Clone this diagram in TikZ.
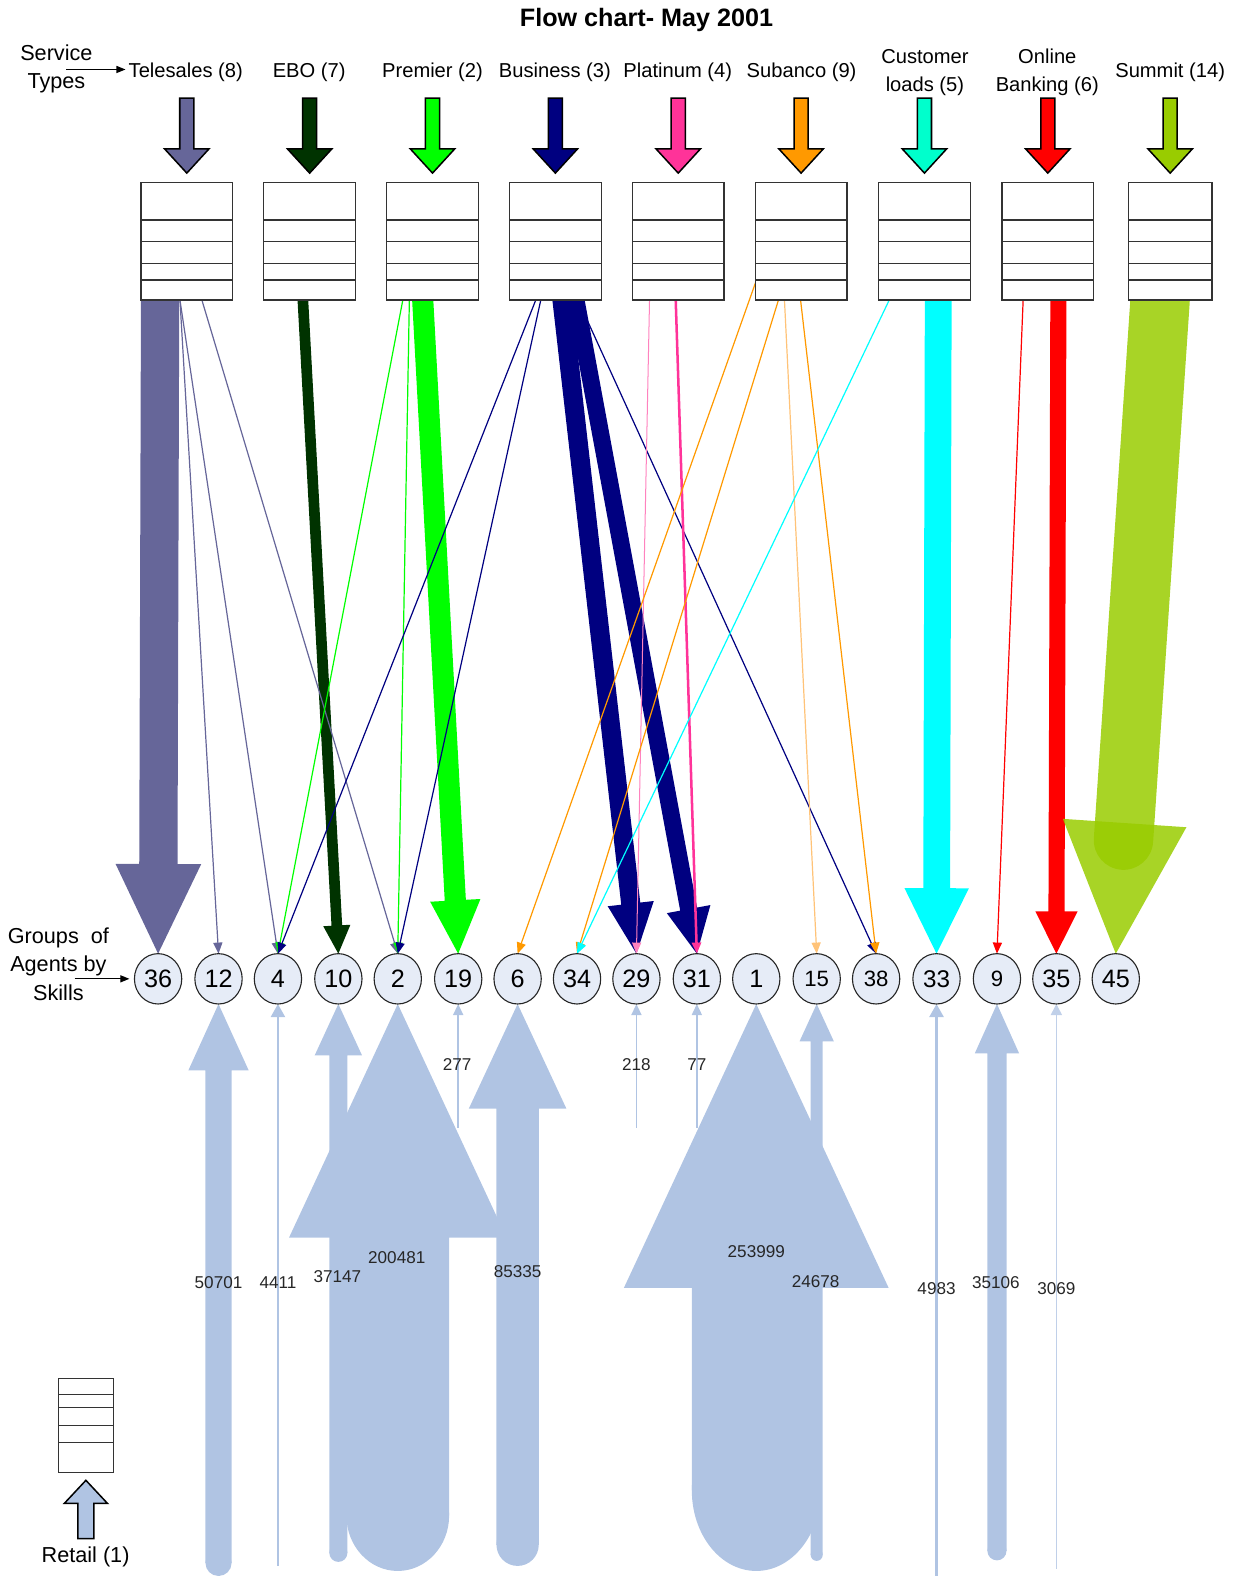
\documentclass[tikz,border=0pt]{standalone}
\usepackage{fontspec}
\setmainfont{Liberation Sans}
\usetikzlibrary{calc,arrows.meta,shapes.geometric}
\pgfdeclarelayer{bg}
\pgfsetlayers{bg,main}
\definecolor{telecol}{RGB}{102,102,153}
\definecolor{ebocol}{RGB}{0,51,0}
\definecolor{premcol}{RGB}{0,255,0}
\definecolor{buscol}{RGB}{0,0,128}
\definecolor{platcol}{RGB}{255,51,153}
\definecolor{platlt}{RGB}{255,130,190}
\definecolor{subcol}{RGB}{255,153,0}
\definecolor{sublt}{RGB}{255,195,120}
\definecolor{custcol}{RGB}{0,255,204}
\definecolor{cyancol}{RGB}{0,255,255}
\definecolor{redcol}{RGB}{255,0,0}
\definecolor{sumcol}{RGB}{153,204,0}
\definecolor{retcol}{RGB}{176,196,227}
\definecolor{grpfill}{RGB}{230,236,247}

% #1 style, #2 start, #3 tip, #4 half shaft, #5 half head, #6 head length
\newcommand\blockarr[6]{%
  \coordinate (bahd) at ($(#3)!#6!(#2)$);
  \fill[#1] ($(#2)!#4!90:(#3)$) -- ($(bahd)!#4!90:(#3)$) -- ($(bahd)!#5!90:(#3)$) -- (#3)
    -- ($(bahd)!#5!-90:(#3)$) -- ($(bahd)!#4!-90:(#3)$) -- ($(#2)!#4!-90:(#3)$) -- cycle;}

\tikzset{
  lab/.style={font=\fontsize{20}{28}\selectfont, align=center, inner sep=3pt},
  side/.style={font=\fontsize{21.5}{28}\selectfont, align=center, inner sep=0pt},
  queuebase/.style={draw=black!80, line width=1.3pt, fill=white, minimum width=91pt,
    minimum height=116.6pt, inner sep=0pt, outer sep=0pt},
  queue/.style={queuebase, path picture={\foreach \fr in {0.318,0.503,0.691,0.828}{
    \draw[line width=1.3pt, black!80] ($(path picture bounding box.north west)!\fr!(path picture bounding box.south west)$)
      -- ($(path picture bounding box.north east)!\fr!(path picture bounding box.south east)$);}}},
  rqueue/.style={queuebase, line width=1.1pt, minimum width=54pt, minimum height=93pt,
    path picture={\foreach \fr in {0.172,0.309,0.497,0.682}{
    \draw[line width=1.1pt, black!80] ($(path picture bounding box.north west)!\fr!(path picture bounding box.south west)$)
      -- ($(path picture bounding box.north east)!\fr!(path picture bounding box.south east)$);}}},
  grp/.style={ellipse, draw=black!85, line width=1.1pt, fill=grpfill, minimum width=47pt,
    minimum height=50pt, inner sep=0pt, outer sep=0pt},
  thinarr/.style={line width=1.2pt, -{Triangle[length=11pt,width=9pt]}},
  numlab/.style={font=\fontsize{17}{20}\selectfont, text=black!85, inner sep=1pt},
  inarrow/.style={draw=black, line width=1.5pt, line join=miter},
  retfill/.style={fill=retcol},
  pointer/.style={line width=1.2pt, -{Triangle[length=9pt,width=7pt]}},
}

\begin{document}
\begin{tikzpicture}[x=1pt,y=-1pt]
\useasboundingbox (0,0) rectangle (1232,1568);

% title and labels
\node[font=\fontsize{25}{30}\selectfont\bfseries] (title) at (642,20) {Flow chart- May 2001};
\node[side] (svc) at (56,68.5) {Service\\Types};
\node[lab] (lab1) at (184.5,72) {Telesales (8)};
\node[lab] (lab2) at (307,72) {EBO (7)};
\node[lab] (lab3) at (429.5,72) {Premier (2)};
\node[lab] (lab4) at (551,72) {Business (3)};
\node[lab] (lab5) at (673,72) {Platinum (4)};
\node[lab] (lab6) at (796,72) {Subanco (9)};
\node[lab] (lab7) at (918.5,72) {Customer\\loads (5)};
\node[lab] (lab8) at (1040,72) {Online\\Banking (6)};
\node[lab] (lab9) at (1162,72) {Summit (14)};
\coordinate (svcarr) at (66,69);
\draw[pointer] (svcarr) -- (lab1.west |- svcarr);

% queues
\node[queue] (q1) at (185.5,239.7) {};
\node[queue] (q2) at (307.5,239.7) {};
\node[queue] (q3) at (429.5,239.7) {};
\node[queue] (q4) at (551.5,239.7) {};
\node[queue] (q5) at (673.5,239.7) {};
\node[queue] (q6) at (795.5,239.7) {};
\node[queue] (q7) at (918,239.7) {};
\node[queue] (q8) at (1040.5,239.7) {};
\node[queue, minimum width=83pt] (q9) at (1162,239.7) {};

% input arrows
\foreach \i/\col in {1/telecol,2/ebocol,3/premcol,4/buscol,5/platcol,6/subcol,7/custcol,8/redcol,9/sumcol}{
  \coordinate (ia\i) at ($(q\i.north)+(0,-84)$);
  \coordinate (it\i) at ($(q\i.north)+(0,-9.5)$);
  \blockarr{inarrow, fill=\col}{ia\i}{it\i}{7pt}{22pt}{24pt}
}

% groups of agents
\foreach \n/\x/\s in {36/157/25,12/217/25,4/276/25,10/336/25,2/395/25,19/455/25,6/514/25,34/573/25,
  29/632/25,31/692/25,1/751/25,15/811/22,38/870/22,33/930/24,9/990/22,35/1049/25,45/1108/25}
  \node[grp, font=\fontsize{\s}{\s}\selectfont] (c\n) at (\x,972) {\n};
\node[side] (grplab) at (58,957.5) {Groups~~of\\Agents by\\Skills};
\coordinate (grparr) at (74,972);
\draw[pointer] (grparr) -- ([xshift=-5pt]c36.west);

% retail
\node[rqueue] (rq) at (85.3,1415.5) {};
\coordinate (ra) at ($(rq.south)+(0,66)$);
\coordinate (rt) at ($(rq.south)+(0,8)$);
\blockarr{inarrow, fill=retcol}{ra}{rt}{8pt}{21.5pt}{23pt}
\node[side] (retlab) at (85,1546) {Retail (1)};

% start points of flows
\coordinate (s36) at ($(q1.south)+(-26.5,-5)$);
\coordinate (t12) at ($(q1.south)+(-6.8,0)$);
\coordinate (t4) at ($(q1.south)+(-6.8,0)$);
\coordinate (t2) at ($(q1.south)+(15,0)$);
\coordinate (s10) at ($(q2.south)+(-7,-5)$);
\coordinate (s19) at ($(q3.south)+(-10,-5)$);
\coordinate (p4) at ($(q3.south)+(-29.5,0)$);
\coordinate (p2) at ($(q3.south)+(-23,0)$);
\coordinate (s29) at ($(q4.south)+(6,-5)$);
\coordinate (s31) at ($(q4.south)+(19.5,-5)$);
\coordinate (u4) at ($(q4.south)+(-19.5,0)$);
\coordinate (u2) at ($(q4.south)+(-14.5,0)$);
\coordinate (u38) at ($(q4.south)+(22.5,0)$);
\coordinate (v29) at ($(q5.south)+(-28.5,0)$);
\coordinate (v31) at ($(q5.south)+(-2.5,0)$);
\coordinate (w6) at ($(q6.south)+(-45,-18)$);
\coordinate (w34) at ($(q6.south)+(-22.5,0)$);
\coordinate (w15) at ($(q6.south)+(-16.5,0)$);
\coordinate (w38) at ($(q6.south)+(-0.5,0)$);
\coordinate (k34) at ($(q7.south)+(-35,0)$);
\coordinate (s33) at ($(q7.south)+(13.7,-5)$);
\coordinate (r9) at ($(q8.south)+(-24.5,0)$);
\coordinate (s35) at ($(q8.south)+(10.5,-5)$);
\coordinate (s45) at ($(q9.south)+(-10,0)$);

% bottom free ends
\coordinate (b12) at ($(c12.south)+(0,555)$);
\coordinate (b4) at ($(c4.south)+(0,558)$);
\coordinate (b10) at ($(c10.south)+(0,545)$);
\coordinate (b2) at ($(c2.south)+(0,508)$);
\coordinate (b19) at ($(c19.south)+(0,123)$);
\coordinate (b6) at ($(c6.south)+(0,537)$);
\coordinate (b29) at ($(c29.south)+(0,123)$);
\coordinate (b31) at ($(c31.south)+(0,123)$);
\coordinate (b1) at ($(c1.south)+(0,483)$);
\coordinate (b15) at ($(c15.south)+(0,547)$);
\coordinate (b33) at ($(c33.south)+(0,568)$);
\coordinate (b9) at ($(c9.south)+(0,543)$);
\coordinate (b35) at ($(c35.south)+(0,561)$);

\begin{pgfonlayer}{bg}
  % retail flows
  \blockarr{retfill}{b12}{c12.south}{13pt}{30pt}{66pt}
  \fill[retfill] (b12) circle (13pt);
  \blockarr{retfill}{b10}{c10.south}{9pt}{23.5pt}{51pt}
  \fill[retfill] (b10) circle (9pt);
  \blockarr{retfill}{b2}{c2.south}{51pt}{108pt}{232pt}
  \fill[retfill] (b2) ellipse [x radius=51pt, y radius=55pt];
  \blockarr{retfill}{b6}{c6.south}{21pt}{48.5pt}{104pt}
  \fill[retfill] (b6) circle (21pt);
  \blockarr{retfill}{b1}{c1.south}{64pt}{131.5pt}{282pt}
  \fill[retfill] (b1) ellipse [x radius=64pt, y radius=80pt];
  \blockarr{retfill}{b15}{c15.south}{6pt}{17pt}{37pt}
  \fill[retfill] (b15) circle (6pt);
  \blockarr{retfill}{b9}{c9.south}{9.5pt}{22pt}{49pt}
  \fill[retfill] (b9) circle (9.5pt);
  \draw[retcol, line width=2pt, -{Triangle[length=13pt,width=14pt]}] (b4) -- (c4.south);
  \draw[retcol, line width=1.5pt, -{Triangle[length=11pt,width=10pt]}] (b19) -- (c19.south);
  \draw[retcol, line width=1.5pt, -{Triangle[length=11pt,width=10pt]}] (b29) -- (c29.south);
  \draw[retcol, line width=1.5pt, -{Triangle[length=11pt,width=10pt]}] (b31) -- (c31.south);
  \draw[retcol, line width=2.5pt, -{Triangle[length=13pt,width=14pt]}] (b33) -- (c33.south);
  \draw[retcol!80, line width=1.5pt, -{Triangle[length=11pt,width=11pt]}] (b35) -- (c35.south);

  % thick service flows
  \blockarr{fill=telecol}{s36}{c36.north}{19pt}{42.5pt}{89pt}
  \blockarr{fill=ebocol}{s10}{c10.north}{5.3pt}{13.5pt}{28pt}
  \blockarr{fill=premcol}{s19}{c19.north}{10.5pt}{25pt}{53pt}
  \blockarr{fill=buscol}{s29}{c29.north}{9.5pt}{23pt}{50pt}
  \blockarr{fill=buscol}{s31}{c31.north}{8.5pt}{22pt}{45pt}
  \blockarr{fill=cyancol}{s33}{c33.north}{13.3pt}{32pt}{65pt}
  \blockarr{fill=redcol}{s35}{c35.north}{8pt}{21pt}{42pt}
  % summit
  \coordinate (e45) at ($(c45.north)!113pt!(s45)$);
  \draw[sumcol, opacity=0.85, line width=59pt, line cap=round] (s45) -- (e45);
  \coordinate (h45) at ($(c45.north)!130pt!(s45)$);
  \fill[sumcol, opacity=0.85] ($(h45)!61.5pt!90:(c45.north)$) -- (c45.north) -- ($(h45)!61.5pt!-90:(c45.north)$) -- cycle;

  % thin service flows
  \draw[thinarr, telecol] (t12) -- (c12.north);
  \draw[thinarr, telecol] (t4) -- (c4.north);
  \draw[thinarr, telecol] (t2) -- (c2.north);
  \draw[thinarr, premcol] (p4) -- (c4.north);
  \draw[thinarr, premcol] (p2) -- (c2.north);
  \draw[thinarr, buscol] (u4) -- (c4.north);
  \draw[thinarr, buscol] (u2) -- (c2.north);
  \draw[thinarr, buscol] (u38) -- (c38.north);
  \draw[thinarr, platlt, line width=1pt] (v29) -- (c29.north);
  \draw[thinarr, platcol, line width=2.5pt] (v31) -- (c31.north);
  \draw[thinarr, subcol] (w6) -- (c6.north);
  \draw[thinarr, subcol] (w34) -- (c34.north);
  \draw[thinarr, sublt] (w15) -- (c15.north);
  \draw[thinarr, subcol] (w38) -- (c38.north);
  \draw[thinarr, cyancol] (k34) -- (c34.north);
  \draw[thinarr, redcol] (r9) -- (c9.north);
\end{pgfonlayer}

% volumes
\node[numlab] (n12) at (217,1274) {50701};
\node[numlab] (n4) at (276,1274) {4411};
\node[numlab] (n10) at (335,1268) {37147};
\node[numlab] (n2) at (394,1249) {200481};
\node[numlab] (n19) at (454,1057) {277};
\node[numlab] (n6) at (514,1263) {85335};
\node[numlab] (n29) at (632,1057) {218};
\node[numlab] (n31) at (692,1057) {77};
\node[numlab] (n1) at (751,1243) {253999};
\node[numlab] (n15) at (810,1273) {24678};
\node[numlab] (n33) at (930,1280) {4983};
\node[numlab] (n9) at (989,1274) {35106};
\node[numlab] (n35) at (1049,1280) {3069};
\end{tikzpicture}
\end{document}
